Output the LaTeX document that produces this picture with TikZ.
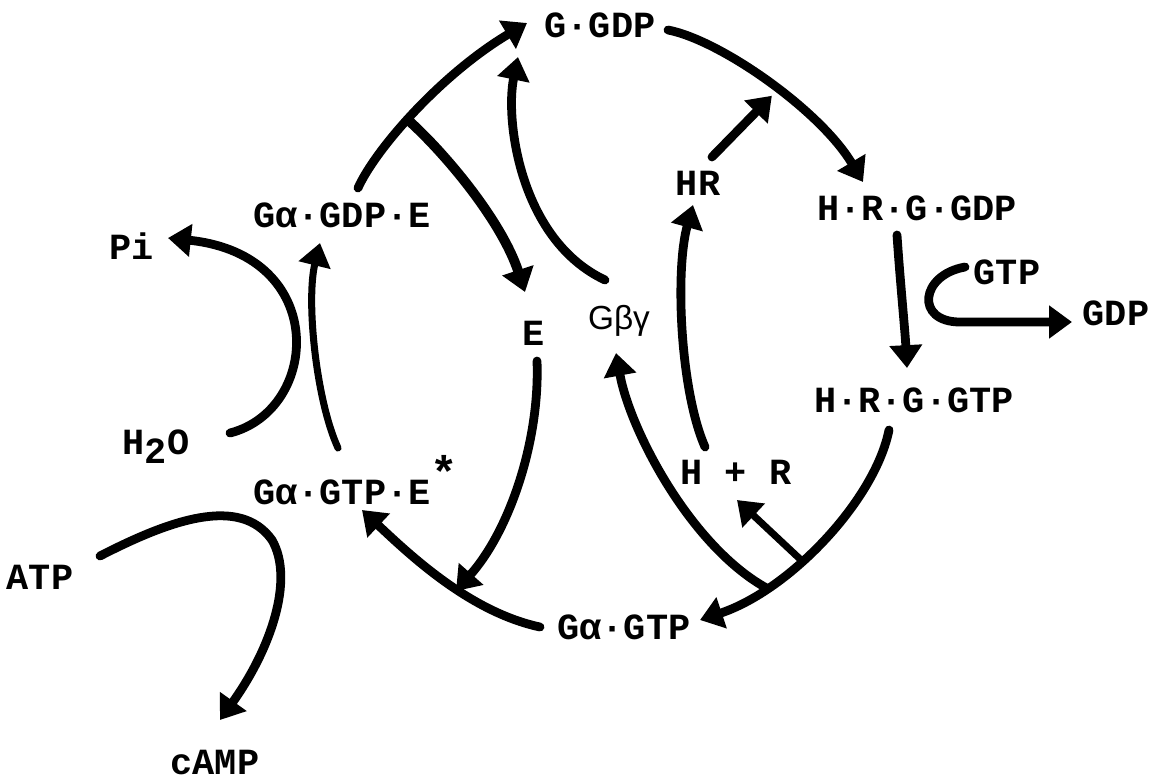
\documentclass[tikz,border=0pt]{standalone}
\usepackage{fontspec}
\setmonofont{Liberation Mono}
\newfontfamily\gsans{Liberation Sans}
\usetikzlibrary{arrows.meta,calc}
\begin{document}
\begin{tikzpicture}[x=0.02cm,y=-0.02cm,
  lbl/.style={font=\ttfamily\bfseries\fontsize{21}{24}\selectfont, inner sep=0pt},
  con/.style={line width=5pt, line cap=round},
  arr/.style={con, -{Triangle[length=13pt,width=18pt]}},
  slim/.style={line width=4pt}]
\fill[white] (0,0) rectangle (1156,781);
\useasboundingbox (0,0) rectangle (1156,781);

% labels
\node[lbl] (ggdp)   at (600,25)  {G·GDP};
\node[lbl] (gagdpe) at (342,215) {Gα·GDP·E};
\node[lbl] (pi)     at (132,246) {Pi};
\node[lbl] (h2o)    at (156,447) {H\raisebox{-5pt}{2}O};
\node[lbl] (gagtpe) at (342,480) {Gα·GTP·E\rlap{\raisebox{9pt}{\fontsize{26}{26}\selectfont *}}};
\node[lbl] (atp)    at (40,577)  {ATP};
\node[lbl] (camp)   at (215,763) {cAMP};
\node[lbl] (e)      at (534,333) {E};
\node[lbl, font=\gsans\fontsize{19}{22}\selectfont] (gbg) at (619,321) {Gβγ};
\node[lbl] (hr)     at (698,183) {HR};
\node[lbl] (hrggdp) at (917,208) {H·R·G·GDP};
\node[lbl] (gtp)    at (1007,272) {GTP};
\node[lbl] (gdp)    at (1116,313) {GDP};
\node[lbl] (hrggtp) at (914,400) {H·R·G·GTP};
\node[lbl] (hplusr) at (736,472) {H + R};
\node[lbl] (gagtp)  at (624,627) {Gα·GTP};

% Galpha.GDP.E -> G.GDP, with branch to E
\draw[arr] ($(gagdpe)+(16,-27)$) .. controls (375,150) and (440,75) .. ($(ggdp)+(-73,-2)$)
  coordinate[pos=0.45] (b1);
\draw[arr, line width=5.6pt] (b1) .. controls (447,155) and (502,222) .. ($(e)+(-9,-41)$);
% Gbetagamma -> G.GDP
\draw[arr] ($(gbg)+(-14,-41)$) .. controls (520,240) and (505,120) .. ($(ggdp)+(-82,32)$);
% G.GDP -> H.R.G.GDP
\draw[arr] ($(ggdp)+(68,5)$) .. controls (720,40) and (820,110) .. ($(hrggdp)+(-54,-26)$)
  coordinate[pos=0.5] (a4);
% HR -> joins
\draw[arr] ($(hr)+(14,-26)$) -- ($(a4)+(3,13)$);
% H+R -> HR
\draw[arr] ($(hplusr)+(-31,-25)$) .. controls (680,390) and (675,270) .. ($(hr)+(-5,22)$);
% H.R.G.GDP -> H.R.G.GTP
\draw[arr] ($(hrggdp)+(-20,27)$) .. controls (900,280) and (905,330) .. ($(hrggtp)+(-7,-32)$);
% GTP in, GDP out
\draw[arr] ($(gtp)+(-42,-5)$) .. controls (920,275) and (915,322) .. (960,322) -- ($(gdp)+(-44,9)$);
% H.R.G.GTP -> Galpha.GTP with branches
\draw[arr] ($(hrggtp)+(-25,30)$) .. controls (875,500) and (790,590) .. ($(gagtp)+(76,-7)$)
  coordinate[pos=0.6] (bhr) coordinate[pos=0.75] (bgbg);
\draw[arr, slim] (bhr) -- ($(hplusr)+(1,28)$);
\draw[arr] (bgbg) .. controls (690,545) and (630,430) .. ($(gbg)+(-3,32)$);
% E -> Galpha.GTP.E*
\draw[arr] ($(e)+(3,28)$) .. controls (540,440) and (510,530) .. (456,591);
% Galpha.GTP -> Galpha.GTP.E*
\draw[arr] ($(gagtp)+(-84,0)$) .. controls (470,612) and (410,555) .. ($(gagtpe)+(20,30)$);
% Galpha.GTP.E* -> Galpha.GDP.E
\draw[arr, slim] ($(gagtpe)+(-4,-32)$) .. controls (316,400) and (306,300) .. ($(gagdpe)+(-22,28)$);
% H2O -> Pi
\draw[arr] ($(h2o)+(74,-14)$) .. controls (320,410) and (330,255) .. ($(pi)+(36,-8)$);
% ATP -> cAMP
\draw[arr] ($(atp)+(60,-21)$) .. controls (170,520) and (240,495) .. (272,540)
  .. controls (295,580) and (270,650) .. ($(camp)+(5,-43)$);
\end{tikzpicture}
\end{document}
